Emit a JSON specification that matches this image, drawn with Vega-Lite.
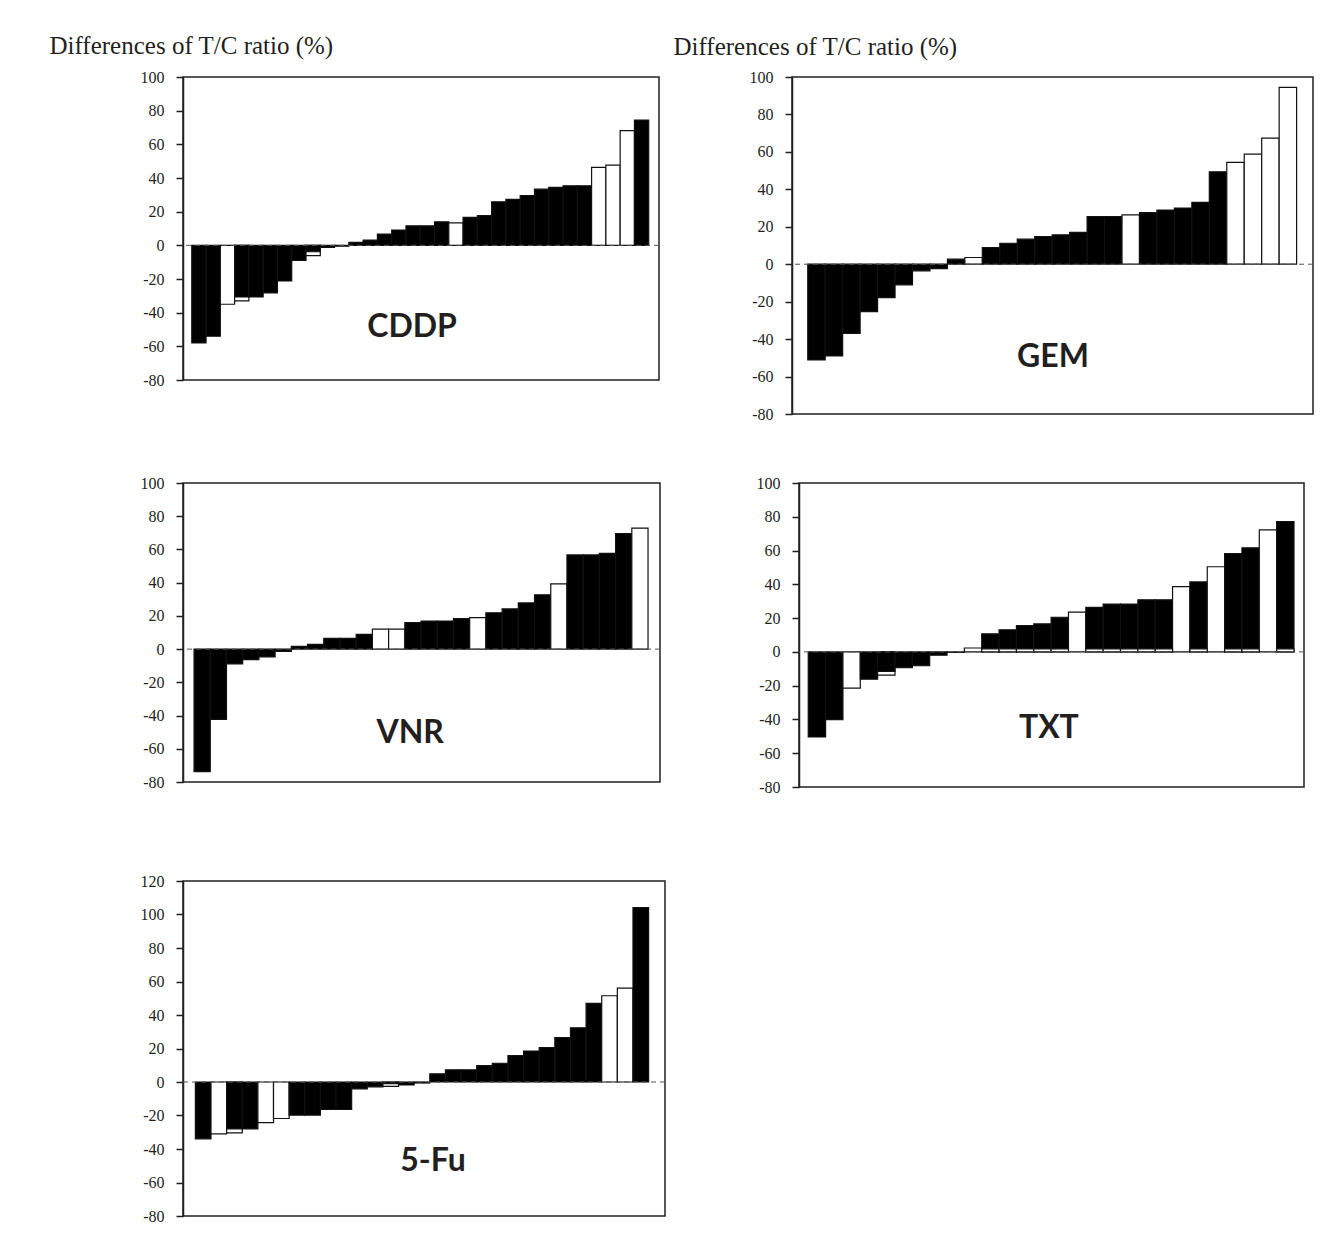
{
  "$schema": "https://vega.github.io/schema/vega-lite/v6.json",
  "padding": {"left": 48, "top": 32, "right": 5, "bottom": 5},
  "background": "white",
  "data": {"values": [
    {"drug":"CDDP","i":1,"value":-58,"kind":"solid"},
    {"drug":"CDDP","i":2,"value":-54,"kind":"solid"},
    {"drug":"CDDP","i":3,"value":-35,"kind":"open"},
    {"drug":"CDDP","i":4,"value":-33,"kind":"open"},
    {"drug":"CDDP","i":4,"value":-30.7,"kind":"solid"},
    {"drug":"CDDP","i":5,"value":-30.7,"kind":"solid"},
    {"drug":"CDDP","i":6,"value":-28.3,"kind":"solid"},
    {"drug":"CDDP","i":7,"value":-21.2,"kind":"solid"},
    {"drug":"CDDP","i":8,"value":-8.9,"kind":"solid"},
    {"drug":"CDDP","i":9,"value":-6.1,"kind":"open"},
    {"drug":"CDDP","i":9,"value":-3.8,"kind":"solid"},
    {"drug":"CDDP","i":10,"value":-1.2,"kind":"solid"},
    {"drug":"CDDP","i":11,"value":-0.5,"kind":"solid"},
    {"drug":"CDDP","i":12,"value":1.8,"kind":"solid"},
    {"drug":"CDDP","i":13,"value":3.1,"kind":"solid"},
    {"drug":"CDDP","i":14,"value":6.7,"kind":"solid"},
    {"drug":"CDDP","i":15,"value":9.1,"kind":"solid"},
    {"drug":"CDDP","i":16,"value":11.6,"kind":"solid"},
    {"drug":"CDDP","i":17,"value":11.6,"kind":"solid"},
    {"drug":"CDDP","i":18,"value":14,"kind":"solid"},
    {"drug":"CDDP","i":19,"value":13.4,"kind":"open"},
    {"drug":"CDDP","i":20,"value":16.6,"kind":"solid"},
    {"drug":"CDDP","i":21,"value":17.6,"kind":"solid"},
    {"drug":"CDDP","i":22,"value":25.9,"kind":"solid"},
    {"drug":"CDDP","i":23,"value":27.3,"kind":"solid"},
    {"drug":"CDDP","i":24,"value":29.5,"kind":"solid"},
    {"drug":"CDDP","i":25,"value":33.4,"kind":"solid"},
    {"drug":"CDDP","i":26,"value":34.4,"kind":"solid"},
    {"drug":"CDDP","i":27,"value":35.4,"kind":"solid"},
    {"drug":"CDDP","i":28,"value":35.4,"kind":"solid"},
    {"drug":"CDDP","i":29,"value":46.3,"kind":"open"},
    {"drug":"CDDP","i":30,"value":47.7,"kind":"open"},
    {"drug":"CDDP","i":31,"value":68.1,"kind":"open"},
    {"drug":"CDDP","i":32,"value":74.4,"kind":"solid"},

    {"drug":"GEM","i":1,"value":-51.1,"kind":"solid"},
    {"drug":"GEM","i":2,"value":-49,"kind":"solid"},
    {"drug":"GEM","i":3,"value":-36.9,"kind":"solid"},
    {"drug":"GEM","i":4,"value":-25.3,"kind":"solid"},
    {"drug":"GEM","i":5,"value":-17.8,"kind":"solid"},
    {"drug":"GEM","i":6,"value":-11,"kind":"solid"},
    {"drug":"GEM","i":7,"value":-3.5,"kind":"solid"},
    {"drug":"GEM","i":8,"value":-2.3,"kind":"solid"},
    {"drug":"GEM","i":9,"value":2.7,"kind":"solid"},
    {"drug":"GEM","i":10,"value":3.6,"kind":"open"},
    {"drug":"GEM","i":11,"value":8.9,"kind":"solid"},
    {"drug":"GEM","i":12,"value":11.2,"kind":"solid"},
    {"drug":"GEM","i":13,"value":13.4,"kind":"solid"},
    {"drug":"GEM","i":14,"value":14.8,"kind":"solid"},
    {"drug":"GEM","i":15,"value":15.7,"kind":"solid"},
    {"drug":"GEM","i":16,"value":17,"kind":"solid"},
    {"drug":"GEM","i":17,"value":25.5,"kind":"solid"},
    {"drug":"GEM","i":18,"value":25.5,"kind":"solid"},
    {"drug":"GEM","i":19,"value":26.4,"kind":"open"},
    {"drug":"GEM","i":20,"value":27.6,"kind":"solid"},
    {"drug":"GEM","i":21,"value":28.9,"kind":"solid"},
    {"drug":"GEM","i":22,"value":30,"kind":"solid"},
    {"drug":"GEM","i":23,"value":33,"kind":"solid"},
    {"drug":"GEM","i":24,"value":49.4,"kind":"solid"},
    {"drug":"GEM","i":25,"value":54.4,"kind":"open"},
    {"drug":"GEM","i":26,"value":58.8,"kind":"open"},
    {"drug":"GEM","i":27,"value":67.4,"kind":"open"},
    {"drug":"GEM","i":28,"value":94.5,"kind":"open"},

    {"drug":"VNR","i":1,"value":-73.7,"kind":"solid"},
    {"drug":"VNR","i":2,"value":-42.3,"kind":"solid"},
    {"drug":"VNR","i":3,"value":-8.9,"kind":"solid"},
    {"drug":"VNR","i":4,"value":-6.3,"kind":"solid"},
    {"drug":"VNR","i":5,"value":-4.7,"kind":"solid"},
    {"drug":"VNR","i":6,"value":-1.4,"kind":"solid"},
    {"drug":"VNR","i":7,"value":1.6,"kind":"solid"},
    {"drug":"VNR","i":8,"value":2.9,"kind":"solid"},
    {"drug":"VNR","i":9,"value":6.5,"kind":"solid"},
    {"drug":"VNR","i":10,"value":6.5,"kind":"solid"},
    {"drug":"VNR","i":11,"value":8.9,"kind":"solid"},
    {"drug":"VNR","i":12,"value":12,"kind":"open"},
    {"drug":"VNR","i":13,"value":12,"kind":"open"},
    {"drug":"VNR","i":14,"value":15.9,"kind":"solid"},
    {"drug":"VNR","i":15,"value":16.9,"kind":"solid"},
    {"drug":"VNR","i":16,"value":16.9,"kind":"solid"},
    {"drug":"VNR","i":17,"value":18.3,"kind":"solid"},
    {"drug":"VNR","i":18,"value":18.9,"kind":"open"},
    {"drug":"VNR","i":19,"value":21.9,"kind":"solid"},
    {"drug":"VNR","i":20,"value":24.2,"kind":"solid"},
    {"drug":"VNR","i":21,"value":27.8,"kind":"solid"},
    {"drug":"VNR","i":22,"value":32.7,"kind":"solid"},
    {"drug":"VNR","i":23,"value":39.3,"kind":"open"},
    {"drug":"VNR","i":24,"value":56.7,"kind":"solid"},
    {"drug":"VNR","i":25,"value":56.7,"kind":"solid"},
    {"drug":"VNR","i":26,"value":57.6,"kind":"solid"},
    {"drug":"VNR","i":27,"value":69.5,"kind":"solid"},
    {"drug":"VNR","i":28,"value":72.8,"kind":"open"},

    {"drug":"TXT","i":1,"value":-50.4,"kind":"solid"},
    {"drug":"TXT","i":2,"value":-40.1,"kind":"solid"},
    {"drug":"TXT","i":3,"value":-21.5,"kind":"open"},
    {"drug":"TXT","i":4,"value":-16.2,"kind":"solid"},
    {"drug":"TXT","i":5,"value":-13.7,"kind":"open"},
    {"drug":"TXT","i":5,"value":-11.5,"kind":"solid"},
    {"drug":"TXT","i":6,"value":-9.4,"kind":"solid"},
    {"drug":"TXT","i":7,"value":-8.2,"kind":"solid"},
    {"drug":"TXT","i":8,"value":-2,"kind":"solid"},
    {"drug":"TXT","i":9,"value":-0.3,"kind":"solid"},
    {"drug":"TXT","i":10,"value":2.3,"kind":"open"},
    {"drug":"TXT","i":11,"value":10.7,"kind":"solid"},
    {"drug":"TXT","i":12,"value":13.1,"kind":"solid"},
    {"drug":"TXT","i":13,"value":15.6,"kind":"solid"},
    {"drug":"TXT","i":14,"value":16.6,"kind":"solid"},
    {"drug":"TXT","i":15,"value":20.5,"kind":"solid"},
    {"drug":"TXT","i":16,"value":23.5,"kind":"open"},
    {"drug":"TXT","i":17,"value":26.4,"kind":"solid"},
    {"drug":"TXT","i":18,"value":28.3,"kind":"solid"},
    {"drug":"TXT","i":19,"value":28.3,"kind":"solid"},
    {"drug":"TXT","i":20,"value":30.8,"kind":"solid"},
    {"drug":"TXT","i":21,"value":30.8,"kind":"solid"},
    {"drug":"TXT","i":22,"value":38.7,"kind":"open"},
    {"drug":"TXT","i":23,"value":41.4,"kind":"solid"},
    {"drug":"TXT","i":24,"value":50.4,"kind":"open"},
    {"drug":"TXT","i":25,"value":58.2,"kind":"solid"},
    {"drug":"TXT","i":26,"value":61.6,"kind":"solid"},
    {"drug":"TXT","i":27,"value":72.3,"kind":"open"},
    {"drug":"TXT","i":28,"value":77.2,"kind":"solid"},
    {"drug":"TXT","i":11,"value":1.8,"kind":"open"},
    {"drug":"TXT","i":12,"value":1.8,"kind":"open"},
    {"drug":"TXT","i":13,"value":1.8,"kind":"open"},
    {"drug":"TXT","i":14,"value":1.8,"kind":"open"},
    {"drug":"TXT","i":15,"value":1.8,"kind":"open"},
    {"drug":"TXT","i":17,"value":1.8,"kind":"open"},
    {"drug":"TXT","i":18,"value":1.8,"kind":"open"},
    {"drug":"TXT","i":19,"value":1.8,"kind":"open"},
    {"drug":"TXT","i":20,"value":1.8,"kind":"open"},
    {"drug":"TXT","i":21,"value":1.8,"kind":"open"},
    {"drug":"TXT","i":23,"value":1.8,"kind":"open"},
    {"drug":"TXT","i":25,"value":1.8,"kind":"open"},
    {"drug":"TXT","i":26,"value":1.8,"kind":"open"},
    {"drug":"TXT","i":28,"value":1.8,"kind":"open"},

    {"drug":"5-Fu","i":1,"value":-33.9,"kind":"solid"},
    {"drug":"5-Fu","i":2,"value":-31,"kind":"open"},
    {"drug":"5-Fu","i":3,"value":-30.4,"kind":"open"},
    {"drug":"5-Fu","i":3,"value":-28,"kind":"solid"},
    {"drug":"5-Fu","i":4,"value":-28,"kind":"solid"},
    {"drug":"5-Fu","i":5,"value":-24.2,"kind":"open"},
    {"drug":"5-Fu","i":6,"value":-21.8,"kind":"open"},
    {"drug":"5-Fu","i":7,"value":-19.8,"kind":"solid"},
    {"drug":"5-Fu","i":8,"value":-19.8,"kind":"solid"},
    {"drug":"5-Fu","i":9,"value":-16.3,"kind":"solid"},
    {"drug":"5-Fu","i":10,"value":-16.3,"kind":"solid"},
    {"drug":"5-Fu","i":11,"value":-4.1,"kind":"solid"},
    {"drug":"5-Fu","i":12,"value":-2.9,"kind":"solid"},
    {"drug":"5-Fu","i":13,"value":-2.6,"kind":"open"},
    {"drug":"5-Fu","i":13,"value":-1,"kind":"solid"},
    {"drug":"5-Fu","i":14,"value":-1.8,"kind":"solid"},
    {"drug":"5-Fu","i":15,"value":-0.6,"kind":"solid"},
    {"drug":"5-Fu","i":16,"value":4.9,"kind":"solid"},
    {"drug":"5-Fu","i":17,"value":7.3,"kind":"solid"},
    {"drug":"5-Fu","i":18,"value":7.3,"kind":"solid"},
    {"drug":"5-Fu","i":19,"value":9.8,"kind":"solid"},
    {"drug":"5-Fu","i":20,"value":11.2,"kind":"solid"},
    {"drug":"5-Fu","i":21,"value":15.7,"kind":"solid"},
    {"drug":"5-Fu","i":22,"value":18.5,"kind":"solid"},
    {"drug":"5-Fu","i":23,"value":20.6,"kind":"solid"},
    {"drug":"5-Fu","i":24,"value":26.5,"kind":"solid"},
    {"drug":"5-Fu","i":25,"value":32.4,"kind":"solid"},
    {"drug":"5-Fu","i":26,"value":47,"kind":"solid"},
    {"drug":"5-Fu","i":27,"value":51.5,"kind":"open"},
    {"drug":"5-Fu","i":28,"value":56,"kind":"open"},
    {"drug":"5-Fu","i":29,"value":104.1,"kind":"solid"}
  ]},
  "vconcat": [
    {
      "spacing": 51,
      "vconcat": [
        {
          "spacing": 11,
          "hconcat": [
            {
              "width": 476, "height": 303,
              "resolve": {"axis": {"y": "independent", "x": "independent"}},
              "layer": [
                {"transform": [{"filter": "datum.drug === 'CDDP'"}],
                 "mark": {"type": "bar", "stroke": "#111111", "strokeWidth": 1.2},
                 "encoding": {
                   "x": {"field": "i", "type": "ordinal", "axis": null, "scale": {"paddingInner": 0, "paddingOuter": 0.667, "align": 0.46}},
                   "y": {"field": "value", "type": "quantitative", "stack": null, "scale": {"domain": [-80, 100], "nice": false, "zero": false},
                         "axis": {"values": [-80, -60, -40, -20, 0, 20, 40, 60, 80, 100], "title": "Differences of T/C ratio (%)", "titleX": -134, "titleY": -32}},
                   "fill": {"field": "kind", "type": "nominal", "scale": {"domain": ["solid", "open"], "range": ["#000000", "#ffffff"]}, "legend": null}
                 }},
                {"data": {"values": [{}]}, "mark": {"type": "rule", "strokeDash": [5, 4], "color": "#555555", "strokeWidth": 1}, "encoding": {"y": {"datum": 0, "type": "quantitative", "axis": null}}},
                {"data": {"values": [{"name": "CDDP"}]}, "mark": {"type": "text", "font": "Lato", "fontWeight": "bold", "fontSize": 32, "color": "#231f20", "align": "center", "baseline": "middle"},
                 "encoding": {"text": {"field": "name"}, "x": {"datum": 16, "type": "ordinal", "bandPosition": 0.43, "axis": null}, "y": {"datum": -48.5, "type": "quantitative", "axis": null}}}
              ]
            },
            {
              "width": 521, "height": 337,
              "resolve": {"axis": {"y": "independent", "x": "independent"}},
              "layer": [
                {"transform": [{"filter": "datum.drug === 'GEM'"}],
                 "mark": {"type": "bar", "stroke": "#111111", "strokeWidth": 1.2},
                 "encoding": {
                   "x": {"field": "i", "type": "ordinal", "axis": null, "scale": {"paddingInner": 0, "paddingOuter": 0.92, "align": 0.49}},
                   "y": {"field": "value", "type": "quantitative", "stack": null, "scale": {"domain": [-80, 100], "nice": false, "zero": false},
                         "axis": {"values": [-80, -60, -40, -20, 0, 20, 40, 60, 80, 100], "title": "Differences of T/C ratio (%)", "titleX": -119, "titleY": -31}},
                   "fill": {"field": "kind", "type": "nominal", "scale": {"domain": ["solid", "open"], "range": ["#000000", "#ffffff"]}, "legend": null}
                 }},
                {"data": {"values": [{}]}, "mark": {"type": "rule", "strokeDash": [5, 4], "color": "#555555", "strokeWidth": 1}, "encoding": {"y": {"datum": 0, "type": "quantitative", "axis": null}}},
                {"data": {"values": [{"name": "GEM"}]}, "mark": {"type": "text", "font": "Lato", "fontWeight": "bold", "fontSize": 32, "color": "#231f20", "align": "center", "baseline": "middle"},
                 "encoding": {"text": {"field": "name"}, "x": {"datum": 15, "type": "ordinal", "bandPosition": 0.05, "axis": null}, "y": {"datum": -49.5, "type": "quantitative", "axis": null}}}
              ]
            }
          ]
        },
        {
          "spacing": 14,
          "hconcat": [
            {
              "width": 477, "height": 299,
              "resolve": {"axis": {"y": "independent", "x": "independent"}},
              "layer": [
                {"transform": [{"filter": "datum.drug === 'VNR'"}],
                 "mark": {"type": "bar", "stroke": "#111111", "strokeWidth": 1.2},
                 "encoding": {
                   "x": {"field": "i", "type": "ordinal", "axis": null, "scale": {"paddingInner": 0, "paddingOuter": 0.71, "align": 0.48}},
                   "y": {"field": "value", "type": "quantitative", "stack": null, "scale": {"domain": [-80, 100], "nice": false, "zero": false},
                         "axis": {"values": [-80, -60, -40, -20, 0, 20, 40, 60, 80, 100], "title": null, "minExtent": 128}},
                   "fill": {"field": "kind", "type": "nominal", "scale": {"domain": ["solid", "open"], "range": ["#000000", "#ffffff"]}, "legend": null}
                 }},
                {"data": {"values": [{}]}, "mark": {"type": "rule", "strokeDash": [5, 4], "color": "#555555", "strokeWidth": 1}, "encoding": {"y": {"datum": 0, "type": "quantitative", "axis": null}}},
                {"data": {"values": [{"name": "VNR"}]}, "mark": {"type": "text", "font": "Lato", "fontWeight": "bold", "fontSize": 32, "color": "#231f20", "align": "center", "baseline": "middle"},
                 "encoding": {"text": {"field": "name"}, "x": {"datum": 14, "type": "ordinal", "bandPosition": 0.33, "axis": null}, "y": {"datum": -50.5, "type": "quantitative", "axis": null}}}
              ]
            },
            {
              "width": 505, "height": 304,
              "resolve": {"axis": {"y": "independent", "x": "independent"}},
              "layer": [
                {"transform": [{"filter": "datum.drug === 'TXT'"}],
                 "mark": {"type": "bar", "stroke": "#111111", "strokeWidth": 1.2},
                 "encoding": {
                   "x": {"field": "i", "type": "ordinal", "axis": null, "scale": {"paddingInner": 0, "paddingOuter": 0.555, "align": 0.48}},
                   "y": {"field": "value", "type": "quantitative", "stack": null, "scale": {"domain": [-80, 100], "nice": false, "zero": false},
                         "axis": {"values": [-80, -60, -40, -20, 0, 20, 40, 60, 80, 100], "title": null, "minExtent": 122}},
                   "fill": {"field": "kind", "type": "nominal", "scale": {"domain": ["solid", "open"], "range": ["#000000", "#ffffff"]}, "legend": null}
                 }},
                {"data": {"values": [{}]}, "mark": {"type": "rule", "strokeDash": [5, 4], "color": "#555555", "strokeWidth": 1}, "encoding": {"y": {"datum": 0, "type": "quantitative", "axis": null}}},
                {"data": {"values": [{"name": "TXT"}]}, "mark": {"type": "text", "font": "Lato", "fontWeight": "bold", "fontSize": 32, "color": "#231f20", "align": "center", "baseline": "middle"},
                 "encoding": {"text": {"field": "name"}, "x": {"datum": 14, "type": "ordinal", "bandPosition": 0.87, "axis": null}, "y": {"datum": -45, "type": "quantitative", "axis": null}}}
              ]
            }
          ]
        }
      ]
    },
    {
      "width": 482, "height": 335,
      "resolve": {"axis": {"y": "independent", "x": "independent"}},
      "layer": [
        {"transform": [{"filter": "datum.drug === '5-Fu'"}],
         "mark": {"type": "bar", "stroke": "#111111", "strokeWidth": 1.2},
         "encoding": {
           "x": {"field": "i", "type": "ordinal", "axis": null, "scale": {"paddingInner": 0, "paddingOuter": 0.92, "align": 0.43}},
           "y": {"field": "value", "type": "quantitative", "stack": null, "scale": {"domain": [-80, 120], "nice": false, "zero": false},
                 "axis": {"values": [-80, -60, -40, -20, 0, 20, 40, 60, 80, 100, 120], "title": null, "minExtent": 128}},
           "fill": {"field": "kind", "type": "nominal", "scale": {"domain": ["solid", "open"], "range": ["#000000", "#ffffff"]}, "legend": null}
         }},
        {"data": {"values": [{}]}, "mark": {"type": "rule", "strokeDash": [5, 4], "color": "#555555", "strokeWidth": 1}, "encoding": {"y": {"datum": 0, "type": "quantitative", "axis": null}}},
        {"data": {"values": [{"name": "5-Fu"}]}, "mark": {"type": "text", "font": "Lato", "fontWeight": "bold", "fontSize": 32, "color": "#231f20", "align": "center", "baseline": "middle"},
         "encoding": {"text": {"field": "name"}, "x": {"datum": 16, "type": "ordinal", "bandPosition": 0.2, "axis": null}, "y": {"datum": -47, "type": "quantitative", "axis": null}}}
      ]
    }
  ],
  "spacing": 76,
  "config": {
    "locale": {"number": {"decimal": ".", "thousands": ",", "grouping": [3], "currency": ["$", ""], "minus": "-"}},
    "view": {"stroke": "#231f20", "strokeWidth": 1.5},
    "axisY": {
      "tickSize": 7, "labelPadding": 12, "labelFont": "Liberation Serif", "labelFontSize": 16, "labelColor": "#231f20",
      "domainColor": "#231f20", "tickColor": "#231f20", "domainWidth": 1.5, "tickWidth": 1.5, "grid": false,
      "labelFlush": false, "labelOverlap": false,
      "titleFont": "Liberation Serif", "titleFontSize": 25, "titleFontWeight": "normal", "titleColor": "#231f20",
      "titleAngle": 0, "titleAlign": "left", "titleBaseline": "middle"
    }
  }
}
